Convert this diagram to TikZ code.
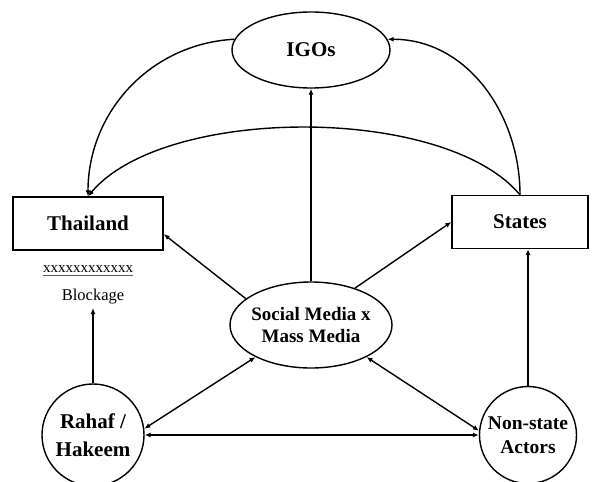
\documentclass[tikz,border=0pt]{standalone}
\usepackage{fontspec}
\setmainfont{Liberation Serif}
\usetikzlibrary{shapes.geometric,arrows.meta}

\begin{document}
\begin{tikzpicture}[x=1pt,y=1pt,
  every node/.style={font=\bfseries\fontsize{21}{26}\selectfont, align=center},
  oval/.style={draw, ellipse, line width=1.4pt, inner sep=0pt},
  actor/.style={draw, circle, line width=1.4pt, inner sep=0pt, minimum size=#1},
  box/.style={draw, rectangle, line width=1.4pt, minimum width=#1, minimum height=53pt},
  arr/.style={line width=1.4pt, -{Latex[length=6pt,width=5pt]}},
  twoway/.style={line width=1.4pt, {Latex[length=6pt,width=5pt]}-{Latex[length=6pt,width=5pt]}}
]
\useasboundingbox (0,0) rectangle (592,-482);

% The actors
\node[oval, minimum width=158pt, minimum height=76pt] (igo) at (311,-50) {IGOs};
\node[box=150pt] (thai) at (88,-223.5) {Thailand};
\node[box=136pt] (states) at (520,-222) {States};
\node[oval, minimum width=162pt, minimum height=86pt, inner xsep=-8pt,
      font=\bfseries\fontsize{19}{22}\selectfont] (social) at (311,-325) {Social Media x\\Mass Media};
\node[actor=102pt, font=\bfseries\fontsize{21}{28}\selectfont] (rahaf) at (93,-435) {Rahaf /\\Hakeem};
\node[actor=97pt, font=\bfseries\fontsize{19.5}{24}\selectfont] (nonstate) at (528,-435) {Non-state\\Actors};

% The blockage under Thailand
\node[inner sep=0pt, font=\fontsize{15}{15}\selectfont] (xs) at (88,-269) {xxxxxxxxxxxx};
\draw[line width=1.8pt, black!65] ([yshift=-3pt]xs.base west) -- ([yshift=-3pt]xs.base east);
\node[font=\fontsize{16.5}{18}\selectfont] (block) at (93,-297) {Blockage};

% From the media
\foreach \a/\t in {158/thai.-8, 40/states.west, 90/igo.south}{
\draw[arr] (social.\a) -- (\t);
}

% Two-way links
\draw[twoway] (rahaf.7) -- (social.210);
\draw[twoway] (nonstate.175) -- (social.-30);
\draw[twoway] (rahaf.east) -- (nonstate.west);

% Upward arrows
\draw[arr] (rahaf.north) -- (block.south);
\draw[arr] (nonstate.north) -- (nonstate.north |- states.south);

% The curves over the top
\draw[arr] (igo.172) to[out=183, in=90] (thai.north);
\draw[arr] (states.north) to[out=130, in=50, looseness=0.7] (thai.north);
\draw[arr] (states.north) to[out=90, in=0] (igo.8);

\end{tikzpicture}
\end{document}
